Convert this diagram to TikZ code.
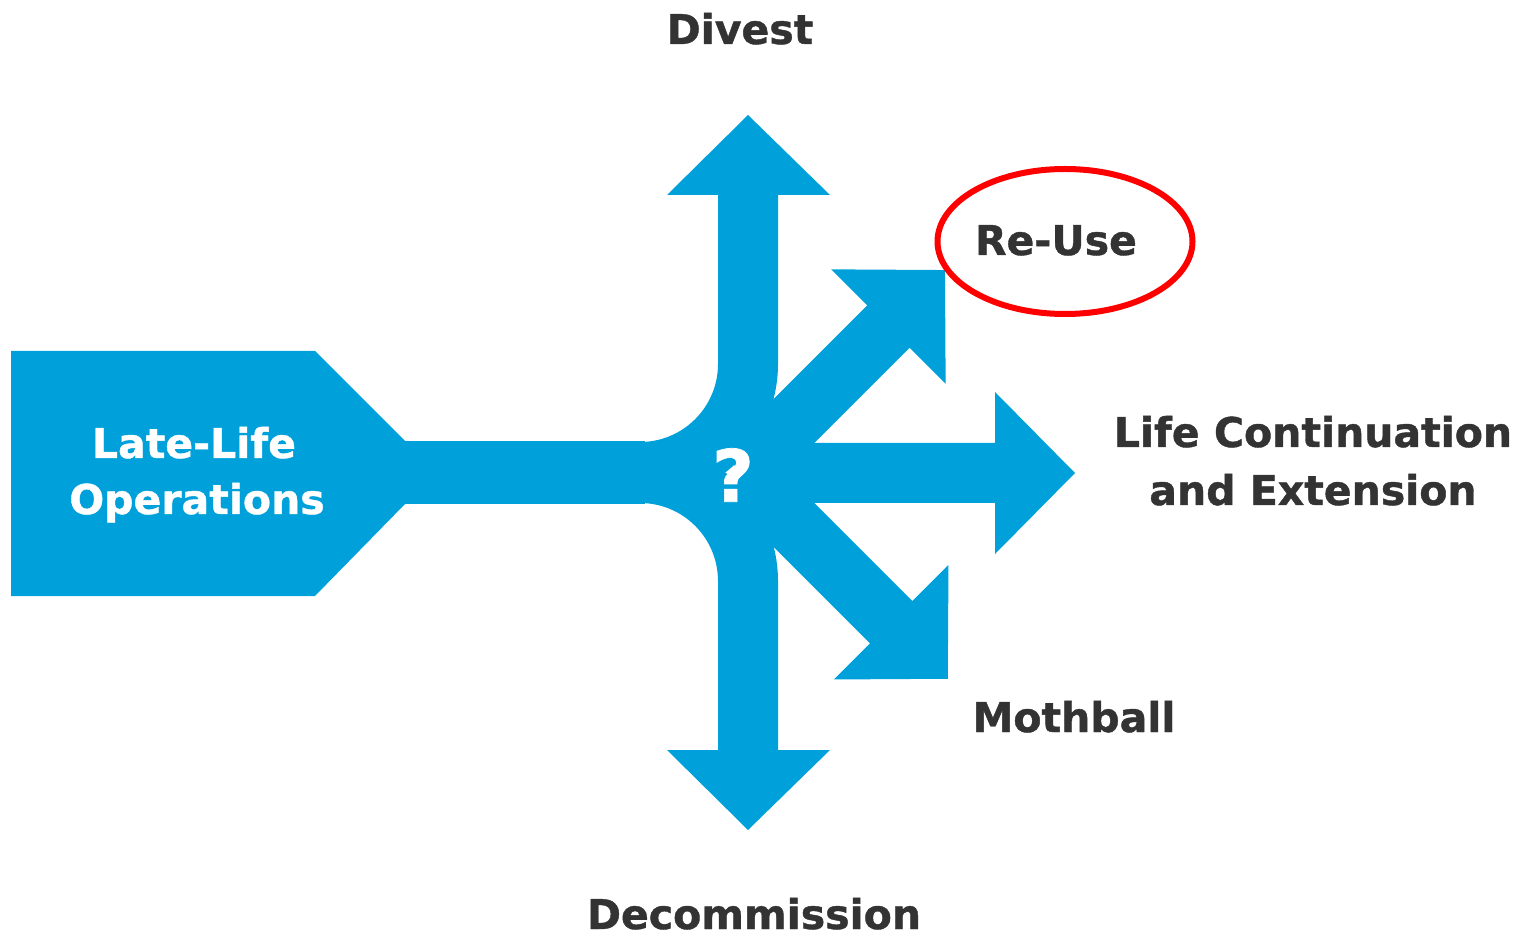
\documentclass[tikz,border=0pt]{standalone}
\usepackage{fontspec}
\setmainfont{DejaVu Sans}[BoldFeatures={FakeBold=1}]
\definecolor{arrowblue}{RGB}{0,161,218}
\definecolor{textgray}{RGB}{51,51,51}
\definecolor{ringred}{RGB}{255,0,0}
\newcommand{\bigarr}[3]{%
  \fill[arrowblue, shift={(#1)}, rotate=#2]
    (0,-30) -- ({#3-80},-30) -- ({#3-80},-81) -- (#3,0) -- ({#3-80},81) -- ({#3-80},30) -- (0,30) -- cycle;}
\tikzset{
  lbl/.style={font=\fontsize{41}{49}\selectfont\bfseries, text=textgray, inner sep=0pt, anchor=base},
  wlbl/.style={font=\fontsize{41}{49}\selectfont\bfseries, text=white, inner sep=0pt, anchor=base},
  band/.style={draw=arrowblue, line width=60pt, line cap=butt},
}
\begin{document}
\begin{tikzpicture}[x=1pt,y=1pt]
\useasboundingbox (0,0) rectangle (1528,938);
% left pentagon and bar
\fill[arrowblue] (11,587) -- (315,587) -- (405,497) -- (405,434) -- (315,342) -- (11,342) -- cycle;
\fill[arrowblue] (400,434) rectangle (645,497);
% curved bands
\draw[band] (635,466) -- (640,466) arc[start angle=-90, end angle=0, radius=108] -- (748,744);
\draw[band] (635,465) -- (640,465) arc[start angle=90, end angle=0, radius=108] -- (748,187);
% heads of vertical arrows
\fill[arrowblue] (667,743) -- (830,743) -- (748,823) -- cycle;
\fill[arrowblue] (667,188) -- (830,188) -- (748,108) -- cycle;
% right, diagonal arrows
\bigarr{742,465}{0}{333}
\bigarr{742,465}{45}{287}
\bigarr{742,465}{-45}{291}
% question mark
\node[font=\fontsize{72}{80}\selectfont\bfseries, text=white, inner sep=0pt] (q) at (733,463) {?};
% labels
\node[wlbl] (late) at (194,480) {Late-Life};
\node[wlbl] (ops) at (197,424) {Operations};
\node[lbl] (divest) at (740,894) {Divest};
\node[lbl] (reuse) at (1056,683) {Re-Use};
\draw[ringred, line width=6pt] (1065,696.5) ellipse[x radius=127.5, y radius=72.5];
\node[lbl] (lifeA) at (1313,491) {Life Continuation};
\node[lbl] (lifeB) at (1313,433) {and Extension};
\node[lbl] (moth) at (1074,206) {Mothball};
\node[lbl] (decom) at (754,9) {Decommission};
\end{tikzpicture}
\end{document}
